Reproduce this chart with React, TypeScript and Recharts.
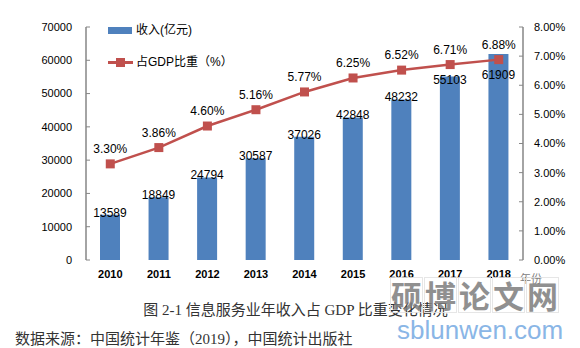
import React from 'react';
import { ComposedChart, Bar, Line, XAxis, YAxis, Legend, LabelList } from 'recharts';

const years = ['2010', '2011', '2012', '2013', '2014', '2015', '2016', '2017', '2018'];
const revenue = [13589, 18849, 24794, 30587, 37026, 42848, 48232, 55103, 61909];
const gdpShare = [3.3, 3.86, 4.6, 5.16, 5.77, 6.25, 6.52, 6.71, 6.88];
const leftTicks = [0, 10000, 20000, 30000, 40000, 50000, 60000, 70000];
const rightTicks = [0, 1, 2, 3, 4, 5, 6, 7, 8];
const boundaryTicks = [0, 1, 2, 3, 4, 5, 6, 7, 8, 9];
const seriesNames = ['收入(亿元)', '占GDP比重（%）'];
const xAxisName = '年份';
const caption = '图 2-1 信息服务业年收入占 GDP 比重变化情况';
const source = '数据来源：中国统计年鉴（2019），中国统计出版社';
const watermarkChars = ['硕', '博', '论', '文', '网'];
const watermarkUrl = 'sblunwen.com';

const LEFT_MAX = 70000;
const RIGHT_MAX = 8;

const data = years.map((y, i) => ({ year: y, revenue: revenue[i], share: gdpShare[i], pos: i + 0.5 }));

const BLUE = '#4F81BD';
const RED = '#C0504D';
const AXIS = '#868686';
const FONT = '"Liberation Sans", "Noto Sans CJK SC", sans-serif';
const SERIF = '"Liberation Serif", "Noto Sans CJK SC", serif';

const BarLabel = (props: any) => {
  const x = Number(props.x), y = Number(props.y), w = Number(props.width), h = Number(props.height);
  const value = Number(props.value);
  let ly = y - 2;
  // avoid the line marker: derive the line point's pixel y from the same plot geometry
  if (value > 0 && h > 0 && props.index != null) {
    const bottom = y + h;
    const plotH = (h / value) * LEFT_MAX;
    const sy = bottom - (gdpShare[props.index] / RIGHT_MAX) * plotH;
    if (Math.abs(ly - sy) < 12) ly = sy + 15;
  }
  return (
    <text x={x + w / 2} y={ly} textAnchor="middle" dominantBaseline="central" fontSize={12} fontFamily={FONT} fill="#000">
      {props.value}
    </text>
  );
};

const LineLabel = (props: any) => {
  const x = Number(props.x), y = Number(props.y);
  return (
    <text x={x} y={y - 15} textAnchor="middle" dominantBaseline="central" fontSize={12} fontFamily={FONT} fill="#000">
      {Number(props.value).toFixed(2) + '%'}
    </text>
  );
};

const SquareDot = (props: any) => (
  <rect key={'d' + props.index} x={props.cx - 4.5} y={props.cy - 4.5} width={9} height={9} fill={RED} />
);

const renderLegend = (props: any) => {
  const payload = props.payload || [];
  const bar = payload.find((p: any) => p.dataKey === 'revenue');
  const line = payload.find((p: any) => p.dataKey === 'share');
  return (
    <div style={{ fontFamily: FONT, fontSize: 12, color: '#000', lineHeight: '20px' }}>
      <div style={{ display: 'flex', alignItems: 'center', height: 20 }}>
        <span style={{ display: 'inline-block', width: 24, height: 7, background: BLUE, marginRight: 4 }} />
        <span>{bar ? bar.value : seriesNames[0]}</span>
      </div>
      <div style={{ height: 12 }} />
      <div style={{ display: 'flex', alignItems: 'center', height: 20 }}>
        <span style={{ position: 'relative', display: 'inline-block', width: 25, height: 20, marginRight: 3 }}>
          <span style={{ position: 'absolute', left: 0, top: 9, width: 25, height: 2.5, background: RED }} />
          <span style={{ position: 'absolute', left: 8, top: 5.5, width: 9, height: 9, background: RED }} />
        </span>
        <span>{line ? line.value : seriesNames[1]}</span>
      </div>
    </div>
  );
};

export default function App() {
  return (
    <div style={{ position: 'absolute', left: 0, top: 0, width: 580, height: 348, background: '#fff', overflow: 'hidden' }}>
      <div style={{ position: 'absolute', left: 0, top: 0 }}>
        <ComposedChart
          width={580}
          height={348}
          data={data}
          margin={{ top: 27, right: 0, bottom: 58, left: 26 }}
          barCategoryGap={0}
        >
          <XAxis
            xAxisId="t"
            type="number"
            dataKey="pos"
            domain={[0, 9]}
            ticks={boundaryTicks}
            allowDataOverflow
            height={0}
            tick={false}
            tickSize={-4}
            axisLine={{ stroke: AXIS, strokeWidth: 1.5 }}
            tickLine={{ stroke: AXIS }}
          />
          <XAxis
            xAxisId="c"
            dataKey="year"
            height={30}
            axisLine={false}
            tickLine={false}
            tickSize={0}
            tickMargin={10}
            interval={0}
            tick={{ fontSize: 11, fontFamily: FONT, fill: '#000', fontWeight: 'bold' }}
          />
          <YAxis
            yAxisId="l"
            width={60}
            domain={[0, LEFT_MAX]}
            ticks={leftTicks}
            tickSize={-4}
            tickMargin={18}
            axisLine={{ stroke: AXIS, strokeWidth: 1.5 }}
            tickLine={{ stroke: AXIS }}
            tick={{ fontSize: 11, fontFamily: FONT, fill: '#000' }}
          />
          <YAxis
            yAxisId="r"
            orientation="right"
            width={57}
            domain={[0, RIGHT_MAX]}
            ticks={rightTicks}
            tickSize={-4}
            tickMargin={15}
            tickFormatter={(v: number) => v.toFixed(2) + '%'}
            axisLine={{ stroke: AXIS, strokeWidth: 1.5 }}
            tickLine={{ stroke: AXIS }}
            tick={{ fontSize: 11, fontFamily: FONT, fill: '#000' }}
          />
          <Legend
            layout="vertical"
            align="center"
            verticalAlign="middle"
            content={renderLegend}
            wrapperStyle={{ top: 20, left: 108, width: 160 }}
          />
          <Bar
            xAxisId="c"
            yAxisId="l"
            dataKey="revenue"
            name={seriesNames[0]}
            fill={BLUE}
            barSize={20}
            isAnimationActive={false}
          >
            <LabelList dataKey="revenue" content={BarLabel} />
          </Bar>
          <Line
            xAxisId="c"
            yAxisId="r"
            dataKey="share"
            name={seriesNames[1]}
            stroke={RED}
            strokeWidth={2.5}
            dot={SquareDot}
            activeDot={false}
            isAnimationActive={false}
          >
            <LabelList dataKey="share" content={LineLabel} />
          </Line>
        </ComposedChart>
      </div>
      <div style={{ position: 'absolute', left: 520, top: 272, fontFamily: FONT, fontSize: 11, lineHeight: '14px', color: '#808080' }}>{xAxisName}</div>
      <div style={{ position: 'absolute', left: 143, width: 305, top: 301, lineHeight: '18px', textAlign: 'center', whiteSpace: 'nowrap', fontFamily: SERIF, fontSize: 15, color: '#333' }}>{caption}</div>
      <div style={{ position: 'absolute', left: 15, top: 330, lineHeight: '18px', whiteSpace: 'nowrap', fontFamily: SERIF, fontSize: 15, color: '#333' }}>{source}</div>
      <div style={{ position: 'absolute', left: 390, top: 277, display: 'flex', opacity: 0.85 }}>
        {watermarkChars.map((c, i) => (
          <span
            key={i}
            style={{
              width: 33, height: 36, marginRight: 1, display: 'flex', alignItems: 'center', justifyContent: 'center',
              border: '1px solid #e2e2e2', boxSizing: 'border-box',
              fontFamily: '"Noto Sans CJK SC", sans-serif', fontWeight: 'bold', fontSize: 31, lineHeight: '36px', color: '#7d7d7d',
            }}
          >
            {c}
          </span>
        ))}
      </div>
      <div style={{ position: 'absolute', left: 397, top: 315, fontFamily: FONT, fontSize: 26, lineHeight: '30px', color: '#8ab6e6', whiteSpace: 'nowrap' }}>{watermarkUrl}</div>
    </div>
  );
}
